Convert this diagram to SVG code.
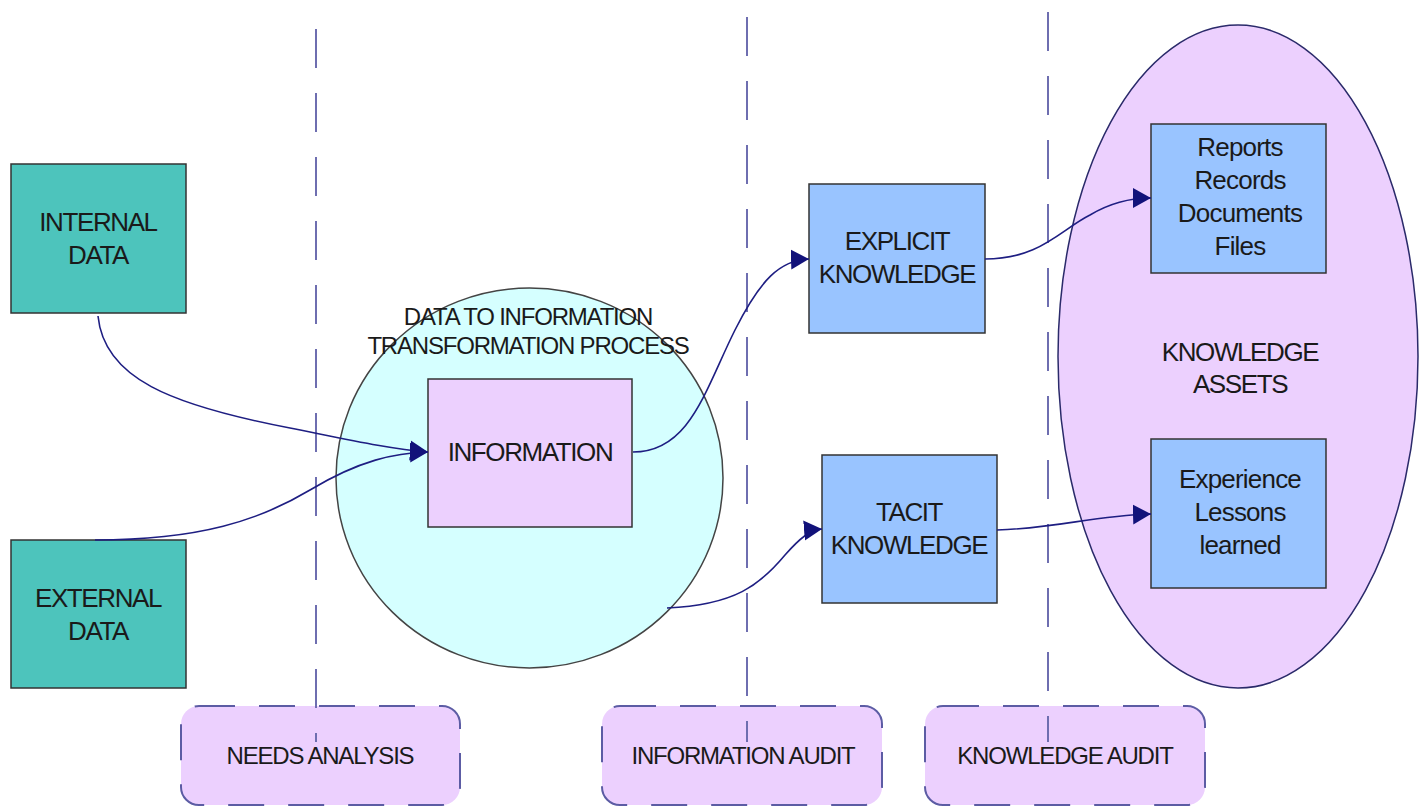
<svg xmlns="http://www.w3.org/2000/svg" width="1420" height="808" viewBox="0 0 1420 808">
<style>
.t{font-family:"Liberation Sans",Arial,sans-serif;font-size:26px;fill:#1a1a1a;text-anchor:middle;letter-spacing:-1.4px}
.s{font-family:"Liberation Sans",Arial,sans-serif;font-size:24px;fill:#1a1a1a;text-anchor:middle;letter-spacing:-1.2px}
.r{font-family:"Liberation Sans",Arial,sans-serif;font-size:26px;fill:#1a1a1a;text-anchor:middle;letter-spacing:-0.8px}
.box{stroke:#333;stroke-width:1.5}
.teal{fill:#4dc4bc}
.blue{fill:#99c4ff}
.purp{fill:#ecd0fe}
.lane{fill:#ecd0fe;stroke:#5c5ca4;stroke-width:2;stroke-dasharray:36 24}
.sep{stroke:#6e6eb0;stroke-width:2;stroke-dasharray:39 25;fill:none}
.con{fill:none;stroke:#1e1e82;stroke-width:1.6}
</style>
<defs>
<marker id="arrow" viewBox="0 0 18 22" refX="18" refY="11" markerWidth="18" markerHeight="22" markerUnits="userSpaceOnUse" orient="auto">
<path d="M0,1 L18,11 L0,21 z" fill="#12127a"/>
</marker>
</defs>
<rect width="1420" height="808" fill="#fff"/>

<g id="knowledge-assets">
<ellipse cx="1238" cy="356.5" rx="180" ry="331.5" class="purp" stroke="#2a2a6a" stroke-width="1.5"/>
<text class="t" x="1240" y="361">KNOWLEDGE</text>
<text class="t" x="1240" y="393">ASSETS</text>
</g>

<g id="transformation-process">
<ellipse cx="529.5" cy="478" rx="193.5" ry="190" fill="#d5ffff" stroke="#444" stroke-width="1.5"/>
<text class="s" x="528" y="325">DATA TO INFORMATION</text>
<text class="s" x="528" y="354">TRANSFORMATION PROCESS</text>
</g>

<g id="internal-data">
<rect x="11" y="164" width="175" height="149" class="box teal"/>
<text class="t" x="98" y="231">INTERNAL</text>
<text class="t" x="98" y="264">DATA</text>
</g>

<g id="external-data">
<rect x="11" y="540" width="175" height="148" class="box teal"/>
<text class="t" x="98" y="607">EXTERNAL</text>
<text class="t" x="98" y="640">DATA</text>
</g>

<g id="information">
<rect x="428" y="379" width="204" height="148" class="box purp"/>
<text class="t" x="530" y="461">INFORMATION</text>
</g>

<g id="explicit-knowledge">
<rect x="809" y="184" width="176" height="149" class="box blue"/>
<text class="t" x="897" y="250">EXPLICIT</text>
<text class="t" x="897" y="283">KNOWLEDGE</text>
</g>

<g id="tacit-knowledge">
<rect x="822" y="455" width="175" height="148" class="box blue"/>
<text class="t" x="909" y="521">TACIT</text>
<text class="t" x="909" y="554">KNOWLEDGE</text>
</g>

<g id="explicit-assets">
<rect x="1151" y="124" width="175" height="149" class="box blue"/>
<text class="r" x="1240" y="156">Reports</text>
<text class="r" x="1240" y="189">Records</text>
<text class="r" x="1240" y="222">Documents</text>
<text class="r" x="1240" y="255">Files</text>
</g>

<g id="tacit-assets">
<rect x="1151" y="439" width="175" height="149" class="box blue"/>
<text class="r" x="1240" y="488">Experience</text>
<text class="r" x="1240" y="521">Lessons</text>
<text class="r" x="1240" y="554">learned</text>
</g>

<g id="needs-analysis">
<rect x="181" y="706" width="279" height="99" rx="18" class="lane"/>
<text class="s" x="320" y="764">NEEDS ANALYSIS</text>
</g>

<g id="information-audit">
<rect x="602" y="706" width="280" height="99" rx="18" class="lane"/>
<text class="s" x="743" y="764">INFORMATION AUDIT</text>
</g>

<g id="knowledge-audit">
<rect x="925" y="706" width="280" height="99" rx="18" class="lane"/>
<text class="s" x="1065" y="764">KNOWLEDGE AUDIT</text>
</g>

<g id="separators">
<line x1="316" y1="29" x2="316" y2="742" class="sep"/>
<line x1="747" y1="17" x2="747" y2="742" class="sep"/>
<line x1="1048" y1="12" x2="1048" y2="742" class="sep"/>
</g>

<g id="connectors">
<path class="con" d="M98,316 C104,378 170,405 290,428 C350,440 390,449 428,452" marker-end="url(#arrow)"/>
<path class="con" d="M95,540 C200,540 260,520 310,490 C360,460 395,453 428,452" marker-end="url(#arrow)"/>
<path class="con" d="M633,452 C690,452 705,390 735,330 C760,280 780,260 809,259" marker-end="url(#arrow)"/>
<path class="con" d="M667,608 C735,605 760,585 785,555 C800,538 810,530 822,529" marker-end="url(#arrow)"/>
<path class="con" d="M985,259 C1040,259 1060,230 1090,215 C1110,203 1130,198 1151,198" marker-end="url(#arrow)"/>
<path class="con" d="M997,530 C1060,528 1090,516 1151,514" marker-end="url(#arrow)"/>
</g>
</svg>
